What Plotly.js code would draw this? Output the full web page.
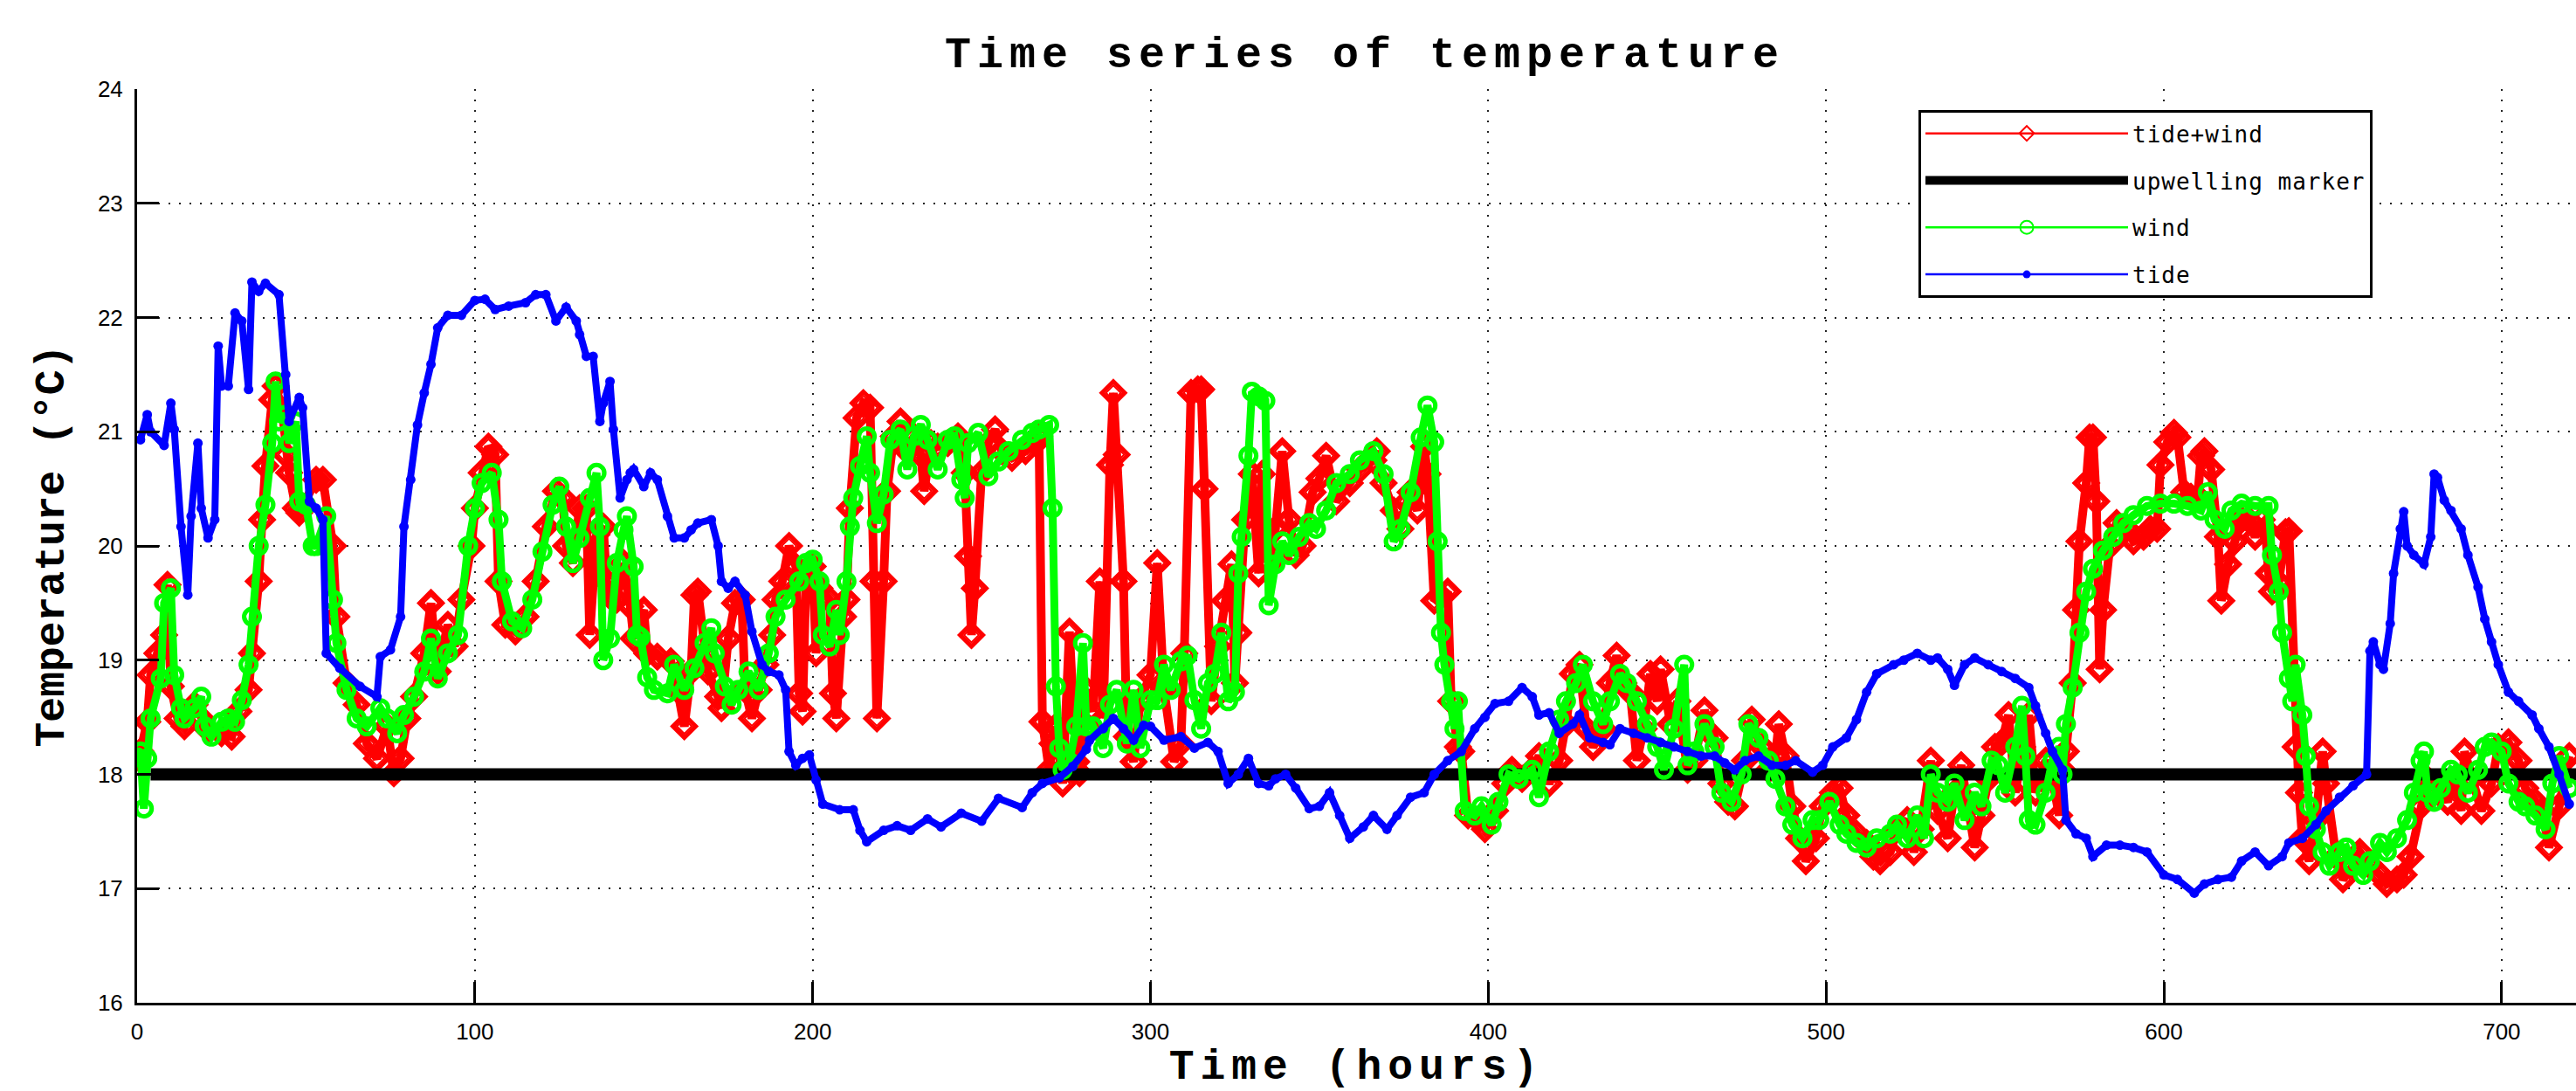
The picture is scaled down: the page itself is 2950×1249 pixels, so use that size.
<!DOCTYPE html>
<html>
<head>
<meta charset="utf-8">
<script src="https://cdn.plot.ly/plotly-3.0.1.min.js"></script>
<style>
  html, body { margin: 0; padding: 0; background: #fff; }
  #chart { width: 2950px; height: 1249px; }
  .gtitle { letter-spacing: 7px; }
  .xtitle { letter-spacing: 7px; }
  .legendtext { letter-spacing: 1px; }
</style>
</head>
<body>
<div id="chart"></div>
<script>
// ---- Data (hours, °C) ----
const tideWindHours = [0,1,3,4,6,8,9,10,12,14,17,19,21,25,28,30,33,34,36,37,38,40,41,43,44,45,47,48,53,55,58,59,62,65,68,71,74,76,78,80,82,85,87,88,89,92,94,96,99,100,102,104,106,107,109,112,115,118,121,124,126,127,129,131,133,134,136,138,139,141,142,144,146,147,150,151,154,158,160,162,164,165,166,168,169,172,173,175,177,179,180,182,184,186,188,189,191,193,195,196,197,198,200,201,202,205,206,207,209,210,211,213,215,217,218,219,221,222,224,226,228,230,232,233,235,237,240,243,245,246,247,248,250,252,254,256,259,263,266,267,268,270,271,272,274,276,278,279,281,283,285,286,288,289,290,292,293,295,297,300,302,304,307,309,310,312,314,315,316,318,320,322,324,325,326,328,330,332,333,335,337,339,341,343,345,348,350,352,355,359,362,366,367,369,372,374,376,377,379,380,381,382,384,386,388,389,391,392,394,397,399,402,405,407,410,413,415,418,421,423,425,427,429,431,434,436,438,440,442,444,446,448,450,451,454,456,459,461,464,467,469,471,473,476,478,481,483,485,486,488,490,492,494,497,499,502,504,506,509,512,514,516,519,521,524,526,528,531,533,536,538,540,542,544,546,548,550,552,554,556,558,560,562,565,567,569,570,571,573,574,575,577,578,579,580,581,582,584,586,589,591,594,596,598,599,601,603,604,606,608,610,611,612,614,616,617,619,621,623,625,627,629,630,631,632,634,636,637,639,640,641,643,645,647,648,651,653,656,658,661,664,666,669,671,673,676,678,681,684,686,688,689,691,694,697,699,702,705,707,710,712,714,717,720];
const tideWindTemp = [18.15,18.2,18.46,18.87,19.06,19.22,19.66,18.77,18.49,18.42,18.61,18.49,18.39,18.36,18.33,18.55,18.74,19.06,19.69,20.23,20.7,21.28,21.4,21.18,20.8,20.64,20.33,20.29,20.58,20.58,20.0,19.38,18.8,18.61,18.27,18.14,18.42,18.01,18.14,18.49,18.68,19.06,19.5,19.12,18.9,19.31,19.12,19.53,20.0,20.33,20.64,20.87,20.8,19.69,19.31,19.25,19.38,19.69,20.17,20.48,20.42,20.0,19.85,20.33,20.33,19.22,20.1,20.17,19.69,19.53,19.53,19.85,19.47,19.19,19.44,19.06,19.03,18.99,18.74,18.42,18.9,19.57,19.6,19.06,18.9,18.68,18.58,19.19,19.5,19.53,18.74,18.49,18.74,18.96,19.22,19.53,19.69,20.0,19.82,18.71,18.55,19.69,19.82,19.06,19.63,19.53,18.71,18.49,19.38,19.53,20.33,21.12,21.25,21.21,19.69,18.49,19.69,20.48,20.96,21.09,20.83,20.96,20.8,20.48,20.9,20.87,20.9,20.96,20.64,19.91,19.22,19.63,20.64,20.9,21.02,20.83,20.77,20.83,20.9,20.96,18.46,18.04,18.27,18.42,17.92,19.25,18.11,18.01,18.74,18.55,19.69,18.49,20.71,21.34,20.8,19.69,18.33,18.11,18.65,18.87,19.85,18.74,18.11,18.27,19.06,21.34,21.37,21.37,20.5,18.64,19.12,19.52,19.84,18.8,19.24,20.23,20.63,19.76,20.63,19.84,20.15,20.83,20.23,19.92,20.0,20.47,20.59,20.79,20.39,20.55,20.67,20.75,20.83,20.55,20.31,20.15,20.39,20.47,20.31,20.55,20.87,20.63,19.52,19.56,19.6,18.64,18.24,18.2,17.64,17.6,17.52,17.68,17.92,18.04,17.96,18.04,18.16,17.92,18.12,18.44,18.88,18.96,18.4,18.24,18.4,18.8,19.04,18.8,18.72,18.12,18.4,18.88,18.64,18.92,18.44,18.64,18.04,18.12,18.56,18.32,17.92,17.76,17.72,18.12,18.48,18.24,18.04,18.16,18.44,18.16,17.72,17.44,17.24,17.44,17.72,17.84,17.88,17.64,17.48,17.4,17.28,17.24,17.32,17.52,17.6,17.32,17.52,18.12,17.68,17.44,17.84,18.08,17.76,17.36,17.64,17.96,18.24,18.28,18.52,17.84,18.24,18.52,17.84,18.12,17.96,17.64,18.04,18.2,18.8,19.44,20.04,20.55,20.95,20.95,20.39,18.92,19.44,20.0,20.2,20.15,20.04,20.08,20.15,20.15,20.71,20.91,20.99,20.95,20.47,20.43,20.43,20.79,20.83,20.67,20.08,19.52,19.84,20.04,20.23,20.23,20.08,20.23,20.15,19.76,19.6,19.68,20.12,20.13,18.24,17.84,17.44,17.24,17.6,18.2,17.92,17.28,17.08,17.2,17.32,17.2,17.12,17.04,17.08,17.12,17.28,17.72,17.96,17.92,17.76,17.96,17.68,18.2,17.96,17.68,17.92,18.24,18.28,18.12,17.88,17.76,17.68,17.36,17.72,18.16,17.76];

const upwellingHours = [4, 730];
const upwellingTemp = [18, 18];

const windHours = [0,1,2,3,4,7,8,10,11,13,14,17,19,20,22,25,27,29,31,33,34,36,38,40,41,42,44,45,47,48,50,52,53,56,58,59,62,65,68,72,74,77,79,82,85,87,89,92,95,98,100,102,105,107,108,111,114,117,120,123,125,127,129,131,134,136,137,138,140,142,144,145,147,148,149,151,153,157,159,162,165,168,170,171,174,176,178,181,184,187,189,192,196,198,200,202,203,205,207,208,210,211,212,214,216,217,219,221,223,226,228,230,232,234,237,240,242,244,245,246,249,252,255,258,262,265,267,270,271,272,273,274,276,278,280,281,283,286,288,290,293,295,297,300,302,304,306,309,311,313,315,317,319,321,323,325,326,327,329,330,332,334,335,337,339,341,344,347,349,352,355,359,362,366,369,372,374,377,380,382,384,385,386,387,389,390,391,393,396,398,401,403,406,409,413,415,418,421,423,426,428,431,434,436,439,441,444,447,450,452,455,458,459,461,464,467,469,472,475,477,480,483,485,488,490,493,496,498,501,504,506,509,512,515,519,521,524,527,529,531,533,536,538,541,544,546,549,551,553,556,558,559,560,562,565,567,569,570,571,573,575,577,579,582,585,588,591,595,599,603,607,611,613,615,618,620,623,627,631,632,634,635,637,638,639,641,642,643,645,647,649,652,654,656,659,661,664,666,669,672,674,676,677,678,680,682,685,687,690,693,695,697,700,702,705,707,710,713,715,717,720];
const windTemp = [18.15,18.2,17.7,18.14,18.49,18.84,19.5,19.63,18.87,18.58,18.49,18.58,18.68,18.42,18.33,18.46,18.49,18.46,18.65,18.96,19.38,20.0,20.36,20.9,21.44,21.09,21.15,20.9,21.09,20.39,20.36,20.0,20.0,20.26,19.53,19.15,18.74,18.49,18.42,18.58,18.49,18.36,18.52,18.68,18.9,19.19,18.84,19.06,19.22,20.0,20.33,20.55,20.64,20.23,19.69,19.34,19.28,19.53,19.95,20.36,20.52,20.17,19.85,20.07,20.42,20.64,20.17,19.0,19.19,19.85,20.14,20.26,19.82,19.22,19.2,18.85,18.74,18.71,18.96,18.74,18.93,19.15,19.28,19.06,18.77,18.61,18.74,18.9,18.74,19.06,19.38,19.53,19.69,19.85,19.88,19.69,19.22,19.12,19.44,19.22,19.69,20.17,20.42,20.7,20.96,20.64,20.2,20.45,20.93,21.02,20.67,20.96,21.06,20.93,20.67,20.93,20.96,20.58,20.42,20.9,20.99,20.61,20.74,20.83,20.93,20.99,21.02,21.06,20.33,18.77,18.23,18.04,18.11,18.42,19.15,18.42,18.42,18.23,18.61,18.74,18.27,18.74,18.23,18.65,18.65,18.96,18.74,18.99,19.04,18.65,18.4,18.8,18.88,19.24,18.64,18.72,19.76,20.08,20.79,21.35,21.31,21.27,19.48,19.84,20.04,19.92,20.08,20.2,20.15,20.31,20.55,20.63,20.75,20.83,20.63,20.04,20.15,20.47,20.95,21.23,20.91,20.04,19.24,18.96,18.64,18.4,18.64,17.68,17.64,17.72,17.56,17.76,18.0,17.96,18.04,17.8,18.2,18.48,18.64,18.8,18.96,18.64,18.44,18.64,18.88,18.8,18.64,18.44,18.24,18.04,18.4,18.96,18.08,18.2,18.44,18.24,17.84,17.76,18.0,18.44,18.32,18.12,17.96,17.72,17.56,17.44,17.6,17.6,17.76,17.56,17.48,17.4,17.36,17.44,17.48,17.56,17.44,17.64,17.44,18.0,17.84,17.76,17.92,17.6,17.84,17.72,18.12,18.08,17.84,18.24,18.6,18.16,17.6,17.56,17.84,18.12,18.24,18.0,18.44,18.76,19.24,19.6,19.8,19.96,20.08,20.2,20.27,20.35,20.37,20.37,20.35,20.31,20.47,20.23,20.15,20.31,20.37,20.35,20.35,19.92,19.6,19.24,18.84,18.64,18.96,18.52,18.16,17.72,17.52,17.32,17.2,17.32,17.36,17.2,17.12,17.24,17.4,17.32,17.44,17.6,17.84,18.12,18.2,17.84,17.76,17.88,18.04,18.0,17.84,18.04,18.24,18.28,18.2,17.92,17.76,17.72,17.64,17.52,17.92,18.16,17.88];

const tideHours = [1,3,4,8,10,11,13,15,16,18,19,21,23,24,25,27,29,31,33,34,36,38,42,44,45,48,49,51,53,55,56,60,66,71,72,75,78,79,81,83,85,87,89,92,96,100,103,106,110,115,118,121,124,127,130,131,133,135,137,138,140,141,143,145,146,147,150,152,154,157,159,162,164,166,170,172,173,175,177,180,182,185,187,190,192,193,195,197,199,201,203,208,212,214,216,221,225,229,234,238,244,250,255,262,265,268,273,277,281,282,286,289,292,295,298,300,304,309,313,317,320,323,326,329,332,335,337,340,343,347,350,353,356,359,363,366,370,373,377,381,384,388,392,396,399,402,406,410,413,415,418,421,425,427,430,434,436,439,443,447,451,455,459,463,467,470,473,476,480,484,488,491,496,499,502,506,509,512,515,520,523,527,531,533,536,538,541,544,548,552,556,560,562,565,567,570,571,574,577,579,583,587,591,595,600,604,609,612,616,620,623,627,631,635,637,641,645,648,652,656,660,661,662,664,665,667,668,670,671,672,674,677,679,680,681,683,685,688,690,693,695,697,699,702,705,709,711,714,717,720];
const tideTemp = [20.93,21.15,21.0,20.88,21.25,21.02,20.17,19.57,20.26,20.9,20.33,20.07,20.23,21.75,21.4,21.4,22.04,21.97,21.37,22.31,22.23,22.3,22.2,21.5,21.09,21.3,21.21,20.39,20.33,20.23,19.06,18.93,18.77,18.68,19.03,19.09,19.38,20.17,20.58,21.06,21.34,21.59,21.91,22.02,22.02,22.15,22.16,22.07,22.1,22.13,22.2,22.2,21.97,22.09,21.97,21.85,21.66,21.66,21.09,21.25,21.44,21.02,20.42,20.58,20.64,20.67,20.52,20.64,20.58,20.26,20.07,20.07,20.14,20.2,20.23,20.0,19.69,19.63,19.69,19.57,19.25,18.96,18.9,18.87,18.74,18.2,18.08,18.14,18.17,17.95,17.74,17.69,17.69,17.51,17.41,17.51,17.55,17.51,17.61,17.54,17.66,17.59,17.79,17.71,17.84,17.92,17.97,18.07,18.22,18.3,18.4,18.49,18.4,18.3,18.43,18.42,18.3,18.33,18.23,18.28,18.2,17.92,18.0,18.14,17.92,17.9,17.96,18.0,17.88,17.7,17.72,17.84,17.64,17.44,17.54,17.64,17.52,17.64,17.8,17.84,18.0,18.12,18.2,18.4,18.5,18.62,18.64,18.76,18.68,18.52,18.54,18.36,18.44,18.52,18.32,18.28,18.26,18.4,18.36,18.32,18.28,18.24,18.2,18.16,18.16,18.1,18.04,18.12,18.16,18.08,18.08,18.12,18.02,18.08,18.24,18.32,18.48,18.72,18.88,18.96,19.0,19.06,19.0,19.02,18.92,18.78,18.96,19.02,18.96,18.9,18.84,18.76,18.6,18.36,18.2,18.04,17.6,17.48,17.44,17.28,17.38,17.38,17.36,17.32,17.12,17.08,16.96,17.04,17.08,17.1,17.24,17.32,17.2,17.28,17.4,17.44,17.56,17.68,17.8,17.9,18.0,19.08,19.16,18.96,18.92,19.32,19.76,20.15,20.3,20.0,19.92,19.84,20.08,20.63,20.6,20.4,20.31,20.15,19.92,19.64,19.36,19.16,18.96,18.72,18.64,18.52,18.4,18.24,18.0,17.74];

const xTickVals = [0, 100, 200, 300, 400, 500, 600, 700];
const yTickVals = [16, 17, 18, 19, 20, 21, 22, 23, 24];

// ---- Traces ----
// Each series is drawn as a thin line (used as its legend entry) under a heavy,
// densely-marked copy of the same data (the thick band seen in the plot).
const traces = [
  { name: 'tide+wind', x: tideWindHours, y: tideWindTemp, type: 'scatter', mode: 'lines+markers',
    line: { color: '#ff0000', width: 2.5 },
    marker: { symbol: 'diamond-open', size: 13, color: '#ff0000', line: { color: '#ff0000', width: 2 } },
    legendgroup: 'a', showlegend: true },
  { name: 'tide+wind', x: tideWindHours, y: tideWindTemp, type: 'scatter', mode: 'lines+markers',
    line: { color: '#ff0000', width: 10 },
    marker: { symbol: 'diamond-open', size: 20, color: '#ff0000', line: { color: '#ff0000', width: 5 } },
    legendgroup: 'a', showlegend: false },
  { name: 'upwelling marker', x: upwellingHours, y: upwellingTemp, type: 'scatter', mode: 'lines',
    line: { color: '#000000', width: 14 },
    legendgroup: 'b', showlegend: true },
  { name: 'wind', x: windHours, y: windTemp, type: 'scatter', mode: 'lines+markers',
    line: { color: '#00ff00', width: 2.5 },
    marker: { symbol: 'circle-open', size: 15, color: '#00ff00', line: { color: '#00ff00', width: 2 } },
    legendgroup: 'c', showlegend: true },
  { name: 'wind', x: windHours, y: windTemp, type: 'scatter', mode: 'lines+markers',
    line: { color: '#00ff00', width: 9 },
    marker: { symbol: 'circle-open', size: 18, color: '#00ff00', line: { color: '#00ff00', width: 5 } },
    legendgroup: 'c', showlegend: false },
  { name: 'tide', x: tideHours, y: tideTemp, type: 'scatter', mode: 'lines+markers',
    line: { color: '#0000ff', width: 2.5 },
    marker: { symbol: 'circle', size: 9, color: '#0000ff' },
    legendgroup: 'd', showlegend: true },
  { name: 'tide', x: tideHours, y: tideTemp, type: 'scatter', mode: 'lines+markers',
    line: { color: '#0000ff', width: 8 },
    marker: { symbol: 'circle', size: 11, color: '#0000ff' },
    legendgroup: 'd', showlegend: false }
];

const axisCommon = {
  showline: true, linecolor: '#000', linewidth: 3,
  ticks: 'inside', tickcolor: '#000', tickwidth: 3,
  showgrid: true, gridcolor: '#222', gridwidth: 2, griddash: '2px,10px',
  zeroline: false, mirror: false,
  tickfont: { family: 'Liberation Sans, Arial, sans-serif', size: 26, color: '#000' }
};

const layout = {
  width: 2950, height: 1249,
  paper_bgcolor: '#ffffff', plot_bgcolor: '#ffffff',
  margin: { l: 157, r: 0, t: 102, b: 101 },
  showlegend: true,
  title: {
    text: 'Time series of temperature',
    font: { family: 'Liberation Mono, Courier New, monospace', size: 50, weight: 'bold', color: '#000' },
    x: 1563 / 2950, xref: 'container', xanchor: 'center',
    y: 1 - 59 / 1249, yref: 'container', yanchor: 'middle'
  },
  xaxis: Object.assign({}, axisCommon, {
    range: [0, 722], tickvals: xTickVals, ticklen: 24, ticklabelstandoff: 8,
    title: { text: 'Time (hours)', standoff: 14,
      font: { family: 'Liberation Mono, Courier New, monospace', size: 48, weight: 'bold', color: '#000' } }
  }),
  yaxis: Object.assign({}, axisCommon, {
    range: [16, 24], tickvals: yTickVals, ticklen: 25, ticklabelstandoff: 8,
    title: { text: 'Temperature (°C)', standoff: 24,
      font: { family: 'Liberation Mono, Courier New, monospace', size: 48, weight: 'bold', color: '#000' } }
  }),
  legend: {
    x: 0.7304, y: 0.9768, xanchor: 'left', yanchor: 'top',
    bgcolor: '#ffffff', bordercolor: '#000', borderwidth: 3,
    font: { family: 'DejaVu Sans Mono, monospace', size: 26, color: '#000' },
    itemwidth: 232, tracegroupgap: 17, traceorder: 'grouped',
    entrywidth: 560, entrywidthmode: 'pixels'
  }
};

Plotly.newPlot('chart', traces, layout, { staticPlot: true, displayModeBar: false });
</script>
</body>
</html>
